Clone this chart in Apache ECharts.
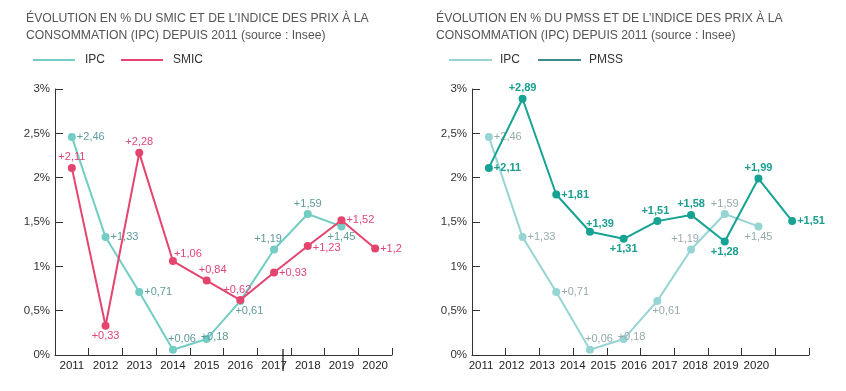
<!DOCTYPE html>
<html>
<head>
<meta charset="utf-8">
<script src="https://cdn.jsdelivr.net/npm/echarts@6/dist/echarts.min.js"></script>
<style>
html,body{margin:0;padding:0;background:#fff;}
#c{width:846px;height:391px;}
</style>
</head>
<body>
<div id="c"></div>
<script>
// ---- DATA ----
const years = ['2011','2012','2013','2014','2015','2016','2017','2018','2019','2020'];
const ipc = [2.46, 1.33, 0.71, 0.06, 0.18, 0.61, 1.19, 1.59, 1.45];
const smic = [2.11, 0.33, 2.28, 1.06, 0.84, 0.62, 0.93, 1.23, 1.52, 1.2];
const pmss = [2.11, 2.89, 1.81, 1.39, 1.31, 1.51, 1.58, 1.28, 1.99, 1.51];
const yTicks = [0, 0.5, 1, 1.5, 2, 2.5, 3];
const titleLeft = 'ÉVOLUTION EN % DU SMIC ET DE L\u2019INDICE DES PRIX À LA\nCONSOMMATION (IPC) DEPUIS 2011 (source : Insee)';
const titleRight = 'ÉVOLUTION EN % DU PMSS ET DE L\u2019INDICE DES PRIX À LA\nCONSOMMATION (IPC) DEPUIS 2011 (source : Insee)';

// ---- STYLE ----
const FONT = '"Liberation Sans", Arial, sans-serif';
const C = {
  ipcL: '#72cdc4', ipcLLab: '#5f9c9c',
  smic: '#e5446f', smicLab: '#e0457a',
  ipcR: '#97d5d4', ipcRLab: '#98abab',
  pmss: '#16a393', pmssLab: '#1a9e90',
  axis: '#333333'
};
const LAB = 11;   // data label font size
const AX = 11.5;  // axis label font size
// label placement per point: [position, dx, dy]
const placeIpc = [['right',0,0],['right',0,0],['right',0,0],['top',9,0],['right',-11,-2],['bottom',9,0],['top',-6,0],['top',0,0],['bottom',0,0]];
const placeSmic = [['top',0,0],['bottom',0,0],['top',0,0],['right',-4,-7],['top',6,0],['top',-3,0],['right',0,0],['right',0,2],['right',0,0],['right',0,0]];
const placePmss = [['right',0,0],['top',0,0],['right',0,0],['top',10,3],['bottom',0,0],['top',-2,0],['top',0,0],['bottom',0,0],['top',0,0],['right',0,0]];

function fmt(v){ return '+' + String(v).replace('.', ','); }
function pts(vals, place, color, bold){
  return vals.map((v,i)=>({
    value: v,
    label: {
      show: true, position: place[i][0], offset: [place[i][1], place[i][2]],
      distance: 1, color: color, fontSize: LAB, fontFamily: FONT,
      fontWeight: bold ? 'bold' : 'normal',
      formatter: fmt(v)
    }
  }));
}

const gridL = {left:55, top:89, width:337, height:266};
const gridR = {left:472, top:89, width:337, height:266};
const gridRLab = {left:465.7, top:89, width:306, height:266};

function yAx(idx){
  return {
    type:'value', gridIndex: idx, min: yTicks[0], max: yTicks[yTicks.length-1], interval: 0.5,
    axisLine:{show:true, lineStyle:{color:C.axis, width:1}},
    axisTick:{show:true, inside:true, length:8, lineStyle:{color:C.axis}},
    splitLine:{show:false},
    axisLabel:{margin:5, color:'#333', fontSize:AX, fontFamily:FONT,
      formatter: v => String(v).replace('.', ',') + '%'}
  };
}
function xAx(idx, showLabels){
  return {
    type:'category', gridIndex: idx, data: years, boundaryGap: true,
    axisLine:{show:true, onZero:false, lineStyle:{color:C.axis, width:1}},
    axisTick:{show:true, inside:true, length:7, alignWithLabel:false, lineStyle:{color:C.axis}},
    axisLabel:{show: showLabels, margin:5, color:'#222', fontSize:AX, fontFamily:FONT, interval:0},
    splitLine:{show:false}
  };
}

const option = {
  animation: false,
  backgroundColor: '#fff',
  title: [
    {text: titleLeft, left: 26, top: 10, padding:0, textStyle:{fontSize:12.2, fontWeight:'normal', color:'#555', fontFamily:FONT, lineHeight:17}},
    {text: titleRight, left: 436, top: 10, padding:0, textStyle:{fontSize:12.2, fontWeight:'normal', color:'#555', fontFamily:FONT, lineHeight:17}}
  ],
  legend: [
    {left: 33, top: 54, padding:0, icon:'rect', itemWidth:42, itemHeight:2, itemGap:16,
     textStyle:{fontSize:12, color:'#333', fontFamily:FONT, padding:[0,0,0,5]},
     data:[{name:'IPC', itemStyle:{color:C.ipcL}}, {name:'SMIC', itemStyle:{color:C.smic}}]},
    {left: 449, top: 54, padding:0, icon:'rect', itemWidth:43, itemHeight:2, itemGap:18,
     textStyle:{fontSize:12, color:'#333', fontFamily:FONT, padding:[0,0,0,3]},
     data:[{name:'IPC', itemStyle:{color:C.ipcR}}, {name:'PMSS', itemStyle:{color:'#3f8b8b'}}]}
  ],
  grid: [gridL, gridR, gridRLab],
  xAxis: [xAx(0, true), xAx(1, false),
    {type:'category', gridIndex:2, data: years, boundaryGap:true,
     axisLine:{show:false}, axisTick:{show:false}, splitLine:{show:false},
     axisLabel:{show:true, margin:5, color:'#222', fontSize:AX, fontFamily:FONT, interval:0}}],
  yAxis: [yAx(0), yAx(1),
    {type:'value', gridIndex:2, min:0, max:3, show:false}],
  series: [
    {name:'IPC', type:'line', xAxisIndex:0, yAxisIndex:0, data: pts(ipc, placeIpc, C.ipcLLab, false),
     symbol:'circle', symbolSize:8, itemStyle:{color:C.ipcL}, lineStyle:{color:C.ipcL, width:2}, z:2},
    {name:'SMIC', type:'line', xAxisIndex:0, yAxisIndex:0, data: pts(smic, placeSmic, C.smicLab, false),
     symbol:'circle', symbolSize:8, itemStyle:{color:C.smic}, lineStyle:{color:C.smic, width:2}, z:3},
    {name:'IPC', type:'line', xAxisIndex:1, yAxisIndex:1, data: pts(ipc, placeIpc, C.ipcRLab, false),
     symbol:'circle', symbolSize:8, itemStyle:{color:C.ipcR}, lineStyle:{color:C.ipcR, width:2}, z:2},
    {name:'PMSS', type:'line', xAxisIndex:1, yAxisIndex:1, data: pts(pmss, placePmss, C.pmssLab, true),
     symbol:'circle', symbolSize:8, itemStyle:{color:C.pmss}, lineStyle:{color:C.pmss, width:2}, z:3}
  ],
  graphic: [
    {type:'line', shape:{x1:283, y1:349, x2:283, y2:371}, style:{stroke:'#111', lineWidth:1.2}, z:100}
  ]
};

const chart = echarts.init(document.getElementById('c'), null, {renderer:'canvas'});
chart.setOption(option);
</script>
</body>
</html>
